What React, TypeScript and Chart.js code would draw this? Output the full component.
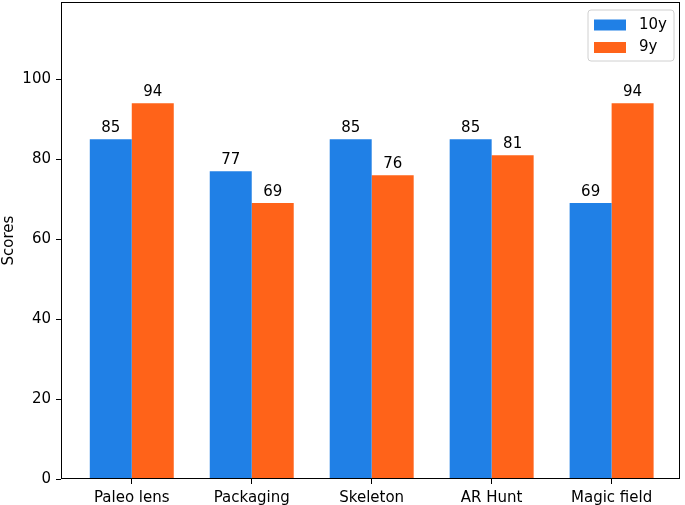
import React, { useEffect, useRef } from "react";
import { Chart, registerables } from "chart.js";

Chart.register(...registerables);

const categories = ["Paleo lens", "Packaging", "Skeleton", "AR Hunt", "Magic field"];
const series10y = [85, 77, 85, 85, 69];
const series9y = [94, 69, 76, 81, 94];
const seriesLabels = ["10y", "9y"];
const seriesColors = ["#2080e6", "#ff6319"];
const yTicks = [0, 20, 40, 60, 80, 100];

const FONT = "'DejaVu Sans', sans-serif";

const labelsPlugin = {
  id: "barLabels",
  afterDatasetsDraw(chart: any) {
    const ctx = chart.ctx;
    ctx.save();
    ctx.font = `15px ${FONT}`;
    ctx.fillStyle = "#000";
    ctx.textAlign = "center";
    ctx.textBaseline = "alphabetic";
    chart.data.datasets.forEach((ds: any, di: number) => {
      const meta = chart.getDatasetMeta(di);
      meta.data.forEach((bar: any, i: number) => {
        const v = ds.data[i].y;
        ctx.fillText(String(v), bar.x, bar.y - 7);
      });
    });
    ctx.restore();
  },
  afterDraw(chart: any) {
    const ctx = chart.ctx;
    const a = chart.chartArea;
    ctx.save();
    ctx.strokeStyle = "#000";
    ctx.lineWidth = 1;
    ctx.strokeRect(a.left + 0.5, a.top + 0.5, a.right - a.left - 1, a.bottom - a.top - 1);
    // legend
    const bx = a.right - 92;
    const by = a.top + 8;
    const bw = 86;
    const bh = 51;
    const r = 3;
    ctx.beginPath();
    ctx.moveTo(bx + r, by);
    ctx.lineTo(bx + bw - r, by);
    ctx.arcTo(bx + bw, by, bx + bw, by + r, r);
    ctx.lineTo(bx + bw, by + bh - r);
    ctx.arcTo(bx + bw, by + bh, bx + bw - r, by + bh, r);
    ctx.lineTo(bx + r, by + bh);
    ctx.arcTo(bx, by + bh, bx, by + bh - r, r);
    ctx.lineTo(bx, by + r);
    ctx.arcTo(bx, by, bx + r, by, r);
    ctx.closePath();
    ctx.fillStyle = "rgba(255,255,255,0.8)";
    ctx.fill();
    ctx.strokeStyle = "#d0d0d0";
    ctx.stroke();
    ctx.font = `15px ${FONT}`;
    ctx.textAlign = "left";
    ctx.textBaseline = "middle";
    chart.data.datasets.forEach((ds: any, di: number) => {
      const cy = by + 15 + di * 22.5;
      ctx.fillStyle = ds.backgroundColor;
      ctx.fillRect(bx + 6, cy - 5.5, 32, 11);
      ctx.fillStyle = "#000";
      ctx.fillText(ds.label, bx + 51, cy);
    });
    ctx.restore();
  },
};

export default function App() {
  const ref = useRef<HTMLCanvasElement | null>(null);
  useEffect(() => {
    if (!ref.current) return;
    const allSeries = [series10y, series9y];
    const chart = new Chart(ref.current, {
      type: "bar",
      data: {
        datasets: allSeries.map((s, di) => ({
          label: seriesLabels[di],
          data: s.map((v, i) => ({ x: i, y: v })),
          backgroundColor: seriesColors[di],
          borderWidth: 0,
          categoryPercentage: 0.7,
          barPercentage: 1.0,
        })),
      },
      options: {
        animation: false,
        responsive: false,
        maintainAspectRatio: false,
        layout: { padding: { top: 2, right: 5, left: 0, bottom: 0 } },
        plugins: { legend: { display: false }, tooltip: { enabled: false } },
        scales: {
          x: {
            type: "linear",
            min: -0.59,
            max: 4.57,
            offset: false,
            afterBuildTicks: (scale: any) => {
              scale.ticks = categories.map((_, i) => ({ value: i }));
            },
            afterFit: (scale: any) => {
              scale.height = 26;
              scale.paddingLeft = 0;
              scale.paddingRight = 0;
              scale.paddingTop = 0;
              scale.paddingBottom = 0;
            },
            ticks: {
              callback: (v: any) => categories[v] ?? "",
              color: "#000",
              font: { family: FONT, size: 15 },
              padding: 5,
              maxRotation: 0,
              autoSkip: false,
            },
            grid: { offset: false, drawOnChartArea: false, drawTicks: true, tickLength: 5, color: "#000" },
            border: { display: false },
          },
          y: {
            type: "linear",
            min: 0,
            max: 119.3,
            afterBuildTicks: (scale: any) => {
              scale.ticks = yTicks.map((v) => ({ value: v }));
            },
            afterFit: (scale: any) => {
              scale.width = 61;
              scale.paddingLeft = 0;
              scale.paddingRight = 0;
              scale.paddingTop = 0;
              scale.paddingBottom = 0;
            },
            ticks: {
              color: "#000",
              font: { family: FONT, size: 15 },
              padding: 5,
            },
            grid: { drawOnChartArea: false, drawTicks: true, tickLength: 5, color: "#000" },
            border: { display: false },
            title: {
              display: true,
              text: "Scores",
              color: "#000",
              font: { family: FONT, size: 15 },
              padding: { top: 0, bottom: 0 },
            },
          },
        },
      },
      plugins: [labelsPlugin],
    } as any);
    return () => chart.destroy();
  }, []);
  return (
    <div style={{ position: "fixed", left: 0, top: 0, width: 685, height: 505, background: "#fff" }}>
      <canvas ref={ref} width={685} height={505} style={{ width: 685, height: 505 }} />
    </div>
  );
}
